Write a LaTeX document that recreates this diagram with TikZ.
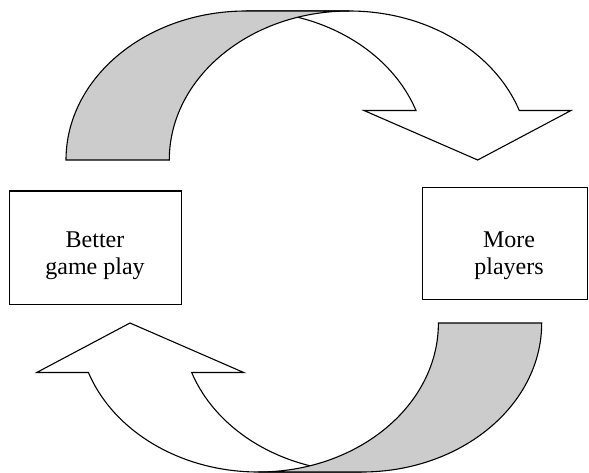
\documentclass[tikz,border=0pt]{standalone}
\usepackage{fontspec}
\setmainfont{Liberation Serif}
\tikzset{
  whiteband/.style={draw=black, fill=white, line width=1.1pt, line join=miter},
  grayband/.style={draw=black, fill=black!20, line width=1.1pt},
  boxnode/.style={draw=black, line width=1.3pt, fill=white, inner sep=0pt},
  labeltext/.style={font=\fontsize{24}{27}\selectfont, align=center, inner sep=0pt},
  ell/.style={x radius=180.1, y radius=149}
}
\begin{document}
\begin{tikzpicture}[x=1pt,y=-1pt]
\useasboundingbox (0,0) rectangle (589,472);
% top curved arrow
\begin{scope}
  \draw[whiteband] (477.7,160) -- (364,110.5) -- (416,110.5)
    arc[start angle=-19.4, end angle=-90, ell] -- (349.4,11)
    arc[start angle=-90, end angle=-19.4, ell] -- (571,110.5) -- cycle;
  \draw[grayband] (66,160) arc[start angle=180, end angle=270, ell]
    -- (349.4,11) arc[start angle=270, end angle=180, ell] -- cycle;
\end{scope}
% bottom curved arrow (same shape turned half round)
\begin{scope}[rotate around={180:(303.85,241.5)}]
  \draw[whiteband] (477.7,160) -- (364,110.5) -- (416,110.5)
    arc[start angle=-19.4, end angle=-90, ell] -- (349.4,11)
    arc[start angle=-90, end angle=-19.4, ell] -- (571,110.5) -- cycle;
  \draw[grayband] (66,160) arc[start angle=180, end angle=270, ell]
    -- (349.4,11) arc[start angle=270, end angle=180, ell] -- cycle;
\end{scope}
% boxes
\node[boxnode, minimum width=172.4pt, minimum height=113.5pt] (bgp) at (95.5,247.7) {};
\node[boxnode, minimum width=164.8pt, minimum height=112pt] (mp) at (505.1,243.3) {};
\node[labeltext] (bgptext) at (95,256.2) {Better\\game play};
\node[labeltext] (mptext) at (509,256.2) {More\\players};
\end{tikzpicture}
\end{document}
